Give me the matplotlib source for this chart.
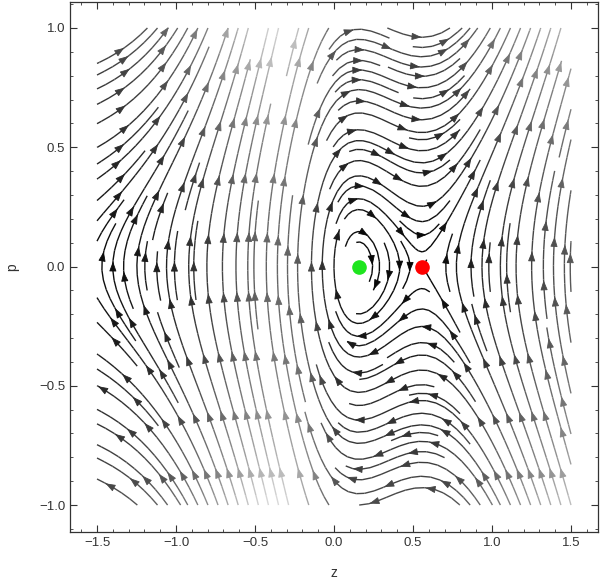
import matplotlib
matplotlib.use("Agg")
import matplotlib.pyplot as plt
import numpy as np
from matplotlib.colors import LinearSegmentedColormap
from matplotlib.patches import FancyArrowPatch
from matplotlib.ticker import MultipleLocator

# fixed points on the p = 0 axis
center_z = [0.157]
saddle_z = [0.557]

amp = 4.6
peak = -0.09
left_rate = 3.8
right_width = 0.8

z_range = [-1.5, 1.5]
p_range = [-1.0, 1.0]


def force(z):
    g = np.where(z < peak,
                 amp / np.cosh(left_rate * (z - peak)),
                 amp / (1 + ((z - peak) / right_width) ** 2))
    return (z - center_z[0]) * (z - saddle_z[0]) * g


def field(zz, pp):
    return pp, force(zz) * (1 + pp ** 2)


z = np.linspace(z_range[0], z_range[1], 301)
p = np.linspace(p_range[0], p_range[1], 201)
Z, P = np.meshgrid(z, p)
U, V = field(Z, P)
speed = np.hypot(U, V)

plt.rcParams['font.family'] = ['Liberation Sans', 'DejaVu Sans']
fig = plt.figure(figsize=(6.0, 5.83), dpi=100)
ax = fig.add_axes([70 / 600, 51 / 583, 528 / 600, 530 / 583])

greys = LinearSegmentedColormap.from_list('mgrey', ['#000000', '#d9d9d9'])
norm = plt.Normalize(0, speed.max())
old_patches = list(ax.patches)
sp = ax.streamplot(z, p, U, V, density=1.6, color=speed, cmap=greys, norm=norm,
                   linewidth=1.0, arrowsize=0.01)
for patch in list(ax.patches):
    if patch not in old_patches:
        patch.remove()

# arrow heads every ~55 px along each stream line, Mathematica style
sx, sy = 158.0, 238.5  # px per data unit
segs = sp.lines.get_segments()
step = 55.0
acc = 0.0
prev_end = None
for s in segs:
    (x0, y0), (x1, y1) = s[0], s[1]
    if prev_end is None or abs(prev_end[0] - x0) > 1e-9 or abs(prev_end[1] - y0) > 1e-9:
        acc = step * 0.45
    prev_end = (x1, y1)
    d = np.hypot((x1 - x0) * sx, (y1 - y0) * sy)
    acc += d
    if acc >= step and d > 0:
        acc = 0.0
        uu, vv = field(np.array(x0), np.array(y0))
        sgn = 1.0 if (x1 - x0) * uu + (y1 - y0) * vv >= 0 else -1.0
        xm, ym = (x0 + x1) / 2, (y0 + y1) / 2
        dx, dy = sgn * (x1 - x0) / d, sgn * (y1 - y0) / d
        col = greys(norm(np.hypot(*field(np.array(xm), np.array(ym)))))
        arr = FancyArrowPatch((xm - dx * 4, ym - dy * 4), (xm + dx * 4, ym + dy * 4),
                              arrowstyle='-|>,head_length=0.6,head_width=0.22',
                              mutation_scale=10, color=col, linewidth=0.6,
                              shrinkA=0, shrinkB=0, zorder=3)
        ax.add_patch(arr)

ax.plot(center_z, [0], 'o', color='#1ee51e', markersize=9.5, zorder=5)
ax.plot(saddle_z, [0], 'o', color='#ff0000', markersize=9.5, zorder=5)

ax.set_xlim(-1.671, 1.671)
ax.set_ylim(-1.113, 1.109)
ax.xaxis.set_major_locator(MultipleLocator(0.5))
ax.xaxis.set_minor_locator(MultipleLocator(0.1))
ax.yaxis.set_major_locator(MultipleLocator(0.5))
ax.yaxis.set_minor_locator(MultipleLocator(0.1))
ax.tick_params(which='both', direction='in', top=True, right=True,
               labelsize=9.5, labelcolor='#333333', color='#333333')
ax.tick_params(which='major', length=5, width=0.8)
ax.tick_params(which='minor', length=2.5, width=0.6)
fmt = plt.FuncFormatter(lambda v, _: f"{v:.1f}".replace('-', '\u2212'))
ax.xaxis.set_major_formatter(fmt)
ax.yaxis.set_major_formatter(fmt)
for s in ax.spines.values():
    s.set_color('#333333')
    s.set_linewidth(0.9)

ax.set_xlabel('z', fontsize=10, color='#333333', labelpad=12)
ax.set_ylabel('p', fontsize=10, color='#333333', labelpad=14)

fig.savefig('out.png', dpi=100)
